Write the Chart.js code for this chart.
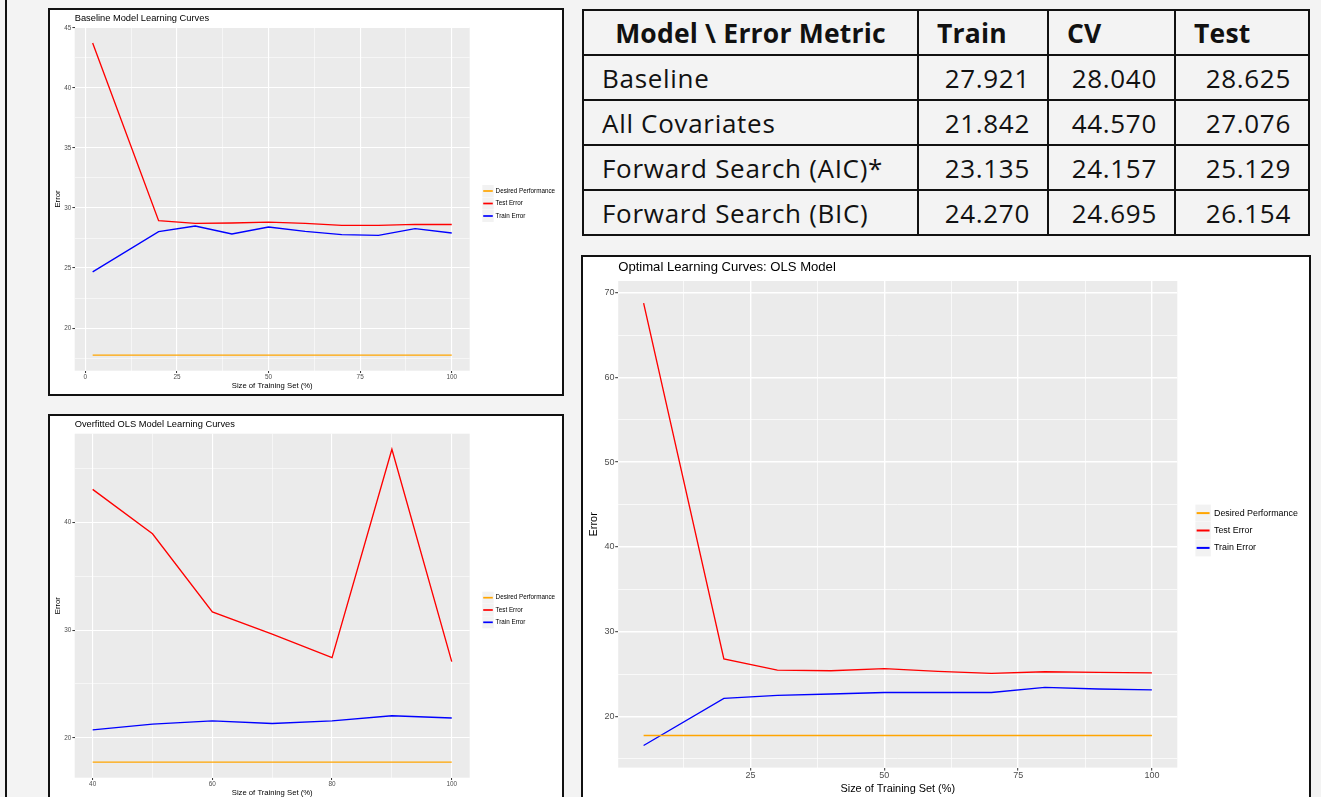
<!DOCTYPE html>
<html>
<head>
<meta charset="utf-8">
<title>Learning curves and error summary</title>
<script src="https://cdn.jsdelivr.net/npm/chart.js@4.4.1/dist/chart.umd.min.js"></script>
<style>
  html, body { margin: 0; padding: 0; }
  body { width: 1321px; height: 797px; overflow: hidden; position: relative; background: #f3f3f3; }
  .rule { position: absolute; left: 5px; top: 0; width: 2px; height: 797px; background: #111; }
  .panel { position: absolute; box-sizing: border-box; border: 2px solid #111; background: #fff; }
  .panel canvas { position: absolute; left: 0; top: 0; }
  #p1 { left: 48px; top: 8px; width: 516px; height: 388px; }
  #p2 { left: 48px; top: 414px; width: 516px; height: 400px; }
  #p3 { left: 581px; top: 255px; width: 730px; height: 560px; }
  #metrics {
    position: absolute; left: 582px; top: 9px;
    display: grid; grid-template-columns: 335px 130px 127px 134px; grid-auto-rows: 45px;
    border-left: 2px solid #111; border-top: 2px solid #111;
    font-family: "Open Sans", sans-serif; color: #111;
  }
  #metrics div {
    box-sizing: border-box; border-right: 2px solid #111; border-bottom: 2px solid #111;
    display: flex; align-items: center; font-size: 26px; letter-spacing: 0.7px; white-space: nowrap;
  }
  #metrics div.head { font-weight: 700; font-size: 26.5px; letter-spacing: 0.2px; padding-left: 18px; }
  #metrics div.head.first { justify-content: center; padding-left: 0; }
  #metrics div.name { padding-left: 18px; }
  #metrics div.num { justify-content: flex-end; padding-right: 17px; }
</style>
</head>
<body>
<div class="rule"></div>
<div class="panel" id="p1"><canvas id="c1" width="512" height="384" style="width:512px;height:384px"></canvas></div>
<div class="panel" id="p2"><canvas id="c2" width="512" height="385" style="width:512px;height:385px"></canvas></div>
<div class="panel" id="p3"><canvas id="c3" width="726" height="544" style="width:726px;height:544px"></canvas></div>
<div id="metrics"></div>

<script>
// ---- Learning-curve data: training-set size (%) and error ----
const baselineSizes   = [2, 20, 30, 40, 50, 60, 70, 80, 90, 100];
const baselineTest    = [43.75, 28.94, 28.72, 28.75, 28.83, 28.72, 28.55, 28.55, 28.64, 28.625];
const baselineTrain   = [24.68, 28.03, 28.50, 27.84, 28.42, 28.06, 27.78, 27.72, 28.28, 27.921];
const baselineDesired = [17.75, 17.75, 17.75, 17.75, 17.75, 17.75, 17.75, 17.75, 17.75, 17.75];

const overfitSizes   = [40, 50, 60, 70, 80, 90, 100];
const overfitTest    = [43.07, 38.95, 31.69, 29.64, 27.44, 46.79, 27.076];
const overfitTrain   = [20.74, 21.27, 21.58, 21.33, 21.58, 22.05, 21.842];
const overfitDesired = [17.75, 17.75, 17.75, 17.75, 17.75, 17.75, 17.75];

const olsSizes   = [5, 20, 30, 40, 50, 60, 70, 80, 90, 100];
const olsTest    = [68.77, 26.78, 25.47, 25.39, 25.64, 25.31, 25.07, 25.27, 25.19, 25.129];
const olsTrain   = [16.57, 22.12, 22.49, 22.65, 22.82, 22.82, 22.82, 23.43, 23.23, 23.135];
const olsDesired = [17.75, 17.75, 17.75, 17.75, 17.75, 17.75, 17.75, 17.75, 17.75, 17.75];

const seriesNames = ['Desired Performance', 'Test Error', 'Train Error'];
const chartTitles = ['Baseline Model Learning Curves', 'Overfitted OLS Model Learning Curves', 'Optimal Learning Curves: OLS Model'];
const xAxisTitle = 'Size of Training Set (%)';
const yAxisTitle = 'Error';

// ---- Axis breaks (major carry labels, minor are grid only) ----
const baselineXMajor = [0, 25, 50, 75, 100];
const baselineXMinor = [12.5, 37.5, 62.5, 87.5];
const baselineYMajor = [20, 25, 30, 35, 40, 45];
const baselineYMinor = [17.5, 22.5, 27.5, 32.5, 37.5, 42.5];
const overfitXMajor  = [40, 60, 80, 100];
const overfitXMinor  = [50, 70, 90];
const overfitYMajor  = [20, 30, 40];
const overfitYMinor  = [25, 35, 45];
const olsXMajor      = [25, 50, 75, 100];
const olsXMinor      = [12.5, 37.5, 62.5, 87.5];
const olsYMajor      = [20, 30, 40, 50, 60, 70];
const olsYMinor      = [15, 25, 35, 45, 55, 65];

// ---- Error summary table ----
const tableHeader = ['Model \\ Error Metric', 'Train', 'CV', 'Test'];
const tableModels = ['Baseline', 'All Covariates', 'Forward Search (AIC)*', 'Forward Search (BIC)'];
const tableTrain  = [27.921, 21.842, 23.135, 24.270];
const tableCV     = [28.040, 44.570, 24.157, 24.695];
const tableTest   = [28.625, 27.076, 25.129, 26.154];

// ---- Styling ----
const FONT = '"Liberation Sans", Arial, Helvetica, sans-serif';
const lineColors = ['#ffa500', '#ff0000', '#0000ff'];

const smallLook = {
  padT: 17.3, padR: 92.3, yW: 24.7, xH: 23.3,
  line: 1.35, major: 1.1, minor: 0.55, tickLen: 2.3, xTickPad: 0, yTickPad: 1,
  tick: 6.4, axisTitle: 7.7, yTitlePad: 3.1, xTitlePad: 3.1,
  titleY: 8, titleSize: 9.3, keyX: 432.3, keyW: 11.4, keyH: 12, legendMid: 193.5,
  legendStep: 12.5, textX: 445.6, legendSize: 6.3, keyLine: 1.7
};
const overfitLook = Object.assign({}, smallLook, { padT: 17.7, legendMid: 194, legendStep: 12.3 });
const bigLook = {
  padT: 24, padR: 131.7, yW: 35.2, xH: 33.4,
  line: 1.35, major: 1.4, minor: 0.7, tickLen: 3, xTickPad: 0, yTickPad: 0.8,
  tick: 9, axisTitle: 10.9, yTitlePad: 4.5, xTitlePad: 5.5,
  titleY: 10.8, titleSize: 13.1, keyX: 612.4, keyW: 15.4, keyH: 17, legendMid: 273.5,
  legendStep: 17.4, textX: 631, legendSize: 8.9, keyLine: 2
};

// ggplot-style range: data span padded by 5% on each side
function expandRange(values) {
  const lo = Math.min(...values), hi = Math.max(...values);
  const pad = (hi - lo) * 0.05;
  return [lo - pad, hi + pad];
}

// Grey panel, left-aligned title and boxed legend keys
const ggPanel = {
  id: 'ggPanel',
  beforeDraw(chart) {
    const { ctx, chartArea: a } = chart;
    ctx.save();
    ctx.fillStyle = '#ebebeb';
    ctx.fillRect(a.left, a.top, a.right - a.left, a.bottom - a.top);
    ctx.restore();
  },
  afterDraw(chart, args, o) {
    const { ctx, chartArea: a } = chart;
    ctx.save();
    ctx.textAlign = 'left';
    ctx.textBaseline = 'middle';
    ctx.fillStyle = '#000';
    ctx.font = o.titleSize + 'px ' + FONT;
    ctx.fillText(o.title, a.left, o.titleY);
    const sets = chart.data.datasets;
    const n = sets.length;
    sets.forEach((ds, i) => {
      const cy = o.legendMid + (i - (n - 1) / 2) * o.legendStep;
      ctx.fillStyle = '#f2f2f2';
      ctx.fillRect(o.keyX, cy - o.keyH / 2, o.keyW, o.keyH);
      ctx.strokeStyle = ds.borderColor;
      ctx.lineWidth = o.keyLine;
      ctx.beginPath();
      ctx.moveTo(o.keyX + o.keyW * 0.08, cy);
      ctx.lineTo(o.keyX + o.keyW * 0.92, cy);
      ctx.stroke();
      ctx.fillStyle = '#000';
      ctx.font = o.legendSize + 'px ' + FONT;
      ctx.fillText(ds.label, o.textX, cy);
    });
    ctx.restore();
  }
};

function axis(major, minor, range, look, isX) {
  const [min, max] = range;
  const all = major.concat(minor).filter(v => v >= min && v <= max).sort((p, q) => p - q);
  const isMajor = v => major.some(m => Math.abs(m - v) < 1e-9);
  return {
    type: 'linear', min, max,
    afterBuildTicks: s => { s.ticks = all.map(v => ({ value: v })); },
    afterFit: s => { if (isX) s.height = look.xH; else s.width = look.yW; },
    border: { display: false },
    grid: {
      color: '#ffffff',
      lineWidth: c => (c.tick && isMajor(c.tick.value)) ? look.major : look.minor,
      tickColor: c => (c.tick && isMajor(c.tick.value)) ? '#333333' : 'rgba(0,0,0,0)',
      tickWidth: 1,
      tickLength: look.tickLen,
      drawTicks: true
    },
    ticks: {
      autoSkip: false, maxRotation: 0, minRotation: 0,
      padding: isX ? look.xTickPad : look.yTickPad,
      color: '#4d4d4d',
      font: { family: FONT, size: look.tick },
      callback: v => isMajor(v) ? String(v) : ''
    },
    title: {
      display: true,
      text: isX ? xAxisTitle : yAxisTitle,
      color: '#000',
      font: { family: FONT, size: look.axisTitle },
      padding: isX ? { top: 0, bottom: look.xTitlePad } : { top: look.yTitlePad, bottom: 0 }
    }
  };
}

function learningCurve(id, title, sizes, desired, test, train, xMajor, xMinor, yMajor, yMinor, look) {
  const xRange = expandRange(sizes);
  const yRange = expandRange(desired.concat(test, train));
  const datasets = [desired, test, train].map((vals, i) => ({
    label: seriesNames[i],
    data: sizes.map((s, k) => ({ x: s, y: vals[k] })),
    borderColor: lineColors[i],
    backgroundColor: lineColors[i],
    borderWidth: look.line,
    pointRadius: 0,
    tension: 0,
    fill: false
  }));
  return new Chart(document.getElementById(id), {
    type: 'line',
    data: { datasets },
    plugins: [ggPanel],
    options: {
      responsive: false,
      animation: false,
      devicePixelRatio: 1,
      events: [],
      layout: { padding: { left: 0, top: look.padT, right: look.padR, bottom: 0 } },
      scales: {
        x: axis(xMajor, xMinor, xRange, look, true),
        y: axis(yMajor, yMinor, yRange, look, false)
      },
      plugins: {
        legend: { display: false },
        title: { display: false },
        tooltip: { enabled: false },
        ggPanel: Object.assign({ title }, look)
      }
    }
  });
}

learningCurve('c1', chartTitles[0], baselineSizes, baselineDesired, baselineTest, baselineTrain,
  baselineXMajor, baselineXMinor, baselineYMajor, baselineYMinor, smallLook);
learningCurve('c2', chartTitles[1], overfitSizes, overfitDesired, overfitTest, overfitTrain,
  overfitXMajor, overfitXMinor, overfitYMajor, overfitYMinor, overfitLook);
learningCurve('c3', chartTitles[2], olsSizes, olsDesired, olsTest, olsTrain,
  olsXMajor, olsXMinor, olsYMajor, olsYMinor, bigLook);

// ---- Summary table ----
const grid = document.getElementById('metrics');
function cell(text, cls) {
  const d = document.createElement('div');
  d.className = cls;
  d.textContent = text;
  grid.appendChild(d);
}
tableHeader.forEach((h, i) => cell(h, i === 0 ? 'head first' : 'head'));
tableModels.forEach((m, r) => {
  cell(m, 'name');
  cell(tableTrain[r].toFixed(3), 'num');
  cell(tableCV[r].toFixed(3), 'num');
  cell(tableTest[r].toFixed(3), 'num');
});
</script>
</body>
</html>
